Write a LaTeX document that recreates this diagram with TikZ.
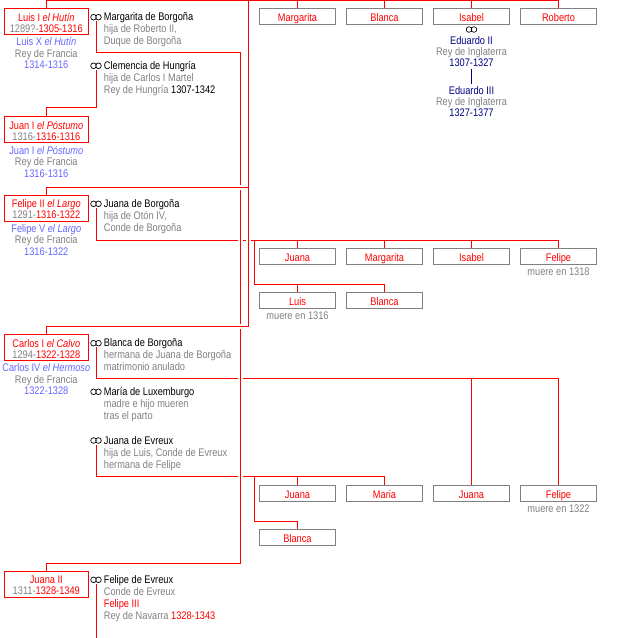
\documentclass[tikz,border=0pt]{standalone}
\usepackage{fontspec}
\setmainfont{Liberation Sans}[FakeStretch=0.84]
\usetikzlibrary{positioning, backgrounds}

\definecolor{tgray}{RGB}{128,128,128}
\definecolor{lblue}{RGB}{102,102,255}
\definecolor{navy}{RGB}{0,0,128}
\newcommand\fsz[1]{\fontsize{11}{#1}\selectfont}
\newcommand\gry[1]{\textcolor{tgray}{#1}}
\newcommand\blu[1]{\textcolor{lblue}{#1}}
\newcommand\rd[1]{\textcolor{red}{#1}}

\begin{document}
\begin{tikzpicture}[
    x=1pt, y=-1pt,
    line/.style={red, line width=1pt},
    over/.style={line, preaction={draw=white, line width=5pt}},
    king/.style={
        draw=red, line width=1pt, text=red, font=\fsz{11}, align=center,
        minimum width=84pt, inner xsep=0pt, inner ysep=2pt,
        text height=21.4pt, text depth=0.6pt, anchor=north
    },
    % multi-line texts are placed by the baseline of their last line
    reign/.style={text=tgray, font=\fsz{11.5}, align=center, anchor=base, inner sep=0pt},
    spouse/.style={font=\fsz{12}, align=left, anchor=base west, inner sep=0pt},
    rings/.style={
        minimum width=12pt, minimum height=8pt, inner sep=0pt,
        path picture={\draw[line width=0.7pt]
            ([xshift=-2.5pt]path picture bounding box.center) circle[radius=2.8pt]
            ([xshift=2.5pt]path picture bounding box.center) circle[radius=2.8pt];}
    },
    child/.style={
        draw=tgray, line width=1pt, text=red, font=\fsz{11},
        minimum width=76pt, inner sep=0pt, text height=12.4pt, text depth=3.6pt,
        anchor=north
    },
    note/.style={text=tgray, font=\fsz{11}, inner sep=0pt, text height=10pt},
]
\useasboundingbox (0,0) rectangle (628,638);

% Kings
\node[king] (luis) at (46.3,8.3) {Luis I \textit{el Hutín}\\\gry{1289?-}1305-1316};
\node[reign] (luisr) at (46.3,68.7) {\blu{Luis X \textit{el Hutín}}\\Rey de Francia\\\blu{1314-1316}};

\node[king] (juan) at (46.3,116.3) {Juan I \textit{el Póstumo}\\\gry{1316-}1316-1316};
\node[reign] (juanr) at (46.3,177) {\blu{Juan I \textit{el Póstumo}}\\Rey de Francia\\\blu{1316-1316}};

\node[king] (felipe) at (46.3,195) {Felipe II \textit{el Largo}\\\gry{1291-}1316-1322};
\node[reign] (feliper) at (46.3,255.3) {\blu{Felipe V \textit{el Largo}}\\Rey de Francia\\\blu{1316-1322}};

\node[king] (carlos) at (46.3,334.3) {Carlos I \textit{el Calvo}\\\gry{1294-}1322-1328};
\node[reign] (carlosr) at (46.3,394.7) {\blu{Carlos IV \textit{el Hermoso}}\\Rey de Francia\\\blu{1322-1328}};

\node[king] (juana2) at (46.3,571) {Juana II\\\gry{1311-}1328-1349};

% Spouses
\node[rings] (rmarg) at (96,17.2) {};
\node[spouse] (marg) at (103.7,44.7) {Margarita de Borgoña\\\gry{hija de Roberto II,}\\\gry{Duque de Borgoña}};

\node[rings] (rclem) at (96,65.8) {};
\node[spouse] (clem) at (103.7,93.3) {Clemencia de Hungría\\\gry{hija de Carlos I Martel}\\\gry{Rey de Hungría} 1307-1342};

\node[rings] (rjbor) at (96,203.8) {};
\node[spouse] (jbor) at (103.7,231.3) {Juana de Borgoña\\\gry{hija de Otón IV,}\\\gry{Conde de Borgoña}};

\node[rings] (rbbor) at (96,343.2) {};
\node[spouse] (bbor) at (103.7,370.7) {Blanca de Borgoña\\\gry{hermana de Juana de Borgoña}\\\gry{matrimonio anulado}};

\node[rings] (rmlux) at (96,391.8) {};
\node[spouse] (mlux) at (103.7,419.3) {María de Luxemburgo\\\gry{madre e hijo mueren}\\\gry{tras el parto}};

\node[rings] (rjevr) at (96,440.5) {};
\node[spouse] (jevr) at (103.7,468) {Juana de Evreux\\\gry{hija de Luis, Conde de Evreux}\\\gry{hermana de Felipe}};

\node[rings] (rfevr) at (96,579.8) {};
\node[spouse] (fevr) at (103.7,619.3) {Felipe de Evreux\\\gry{Conde de Evreux}\\\rd{Felipe III}\\\gry{Rey de Navarra} \rd{1328-1343}};

% Children of the first generation
\node[child] (pmarg) at (297.5,8.3) {Margarita};
\node[child] (pblan) at (384.5,8.3) {Blanca};
\node[child] (pisab) at (471.5,8.3) {Isabel};
\node[child] (prob)  at (558.5,8.3) {Roberto};

\node[rings] (risab) at (471.5,29.5) {};
\node[reign, font=\fsz{11}] (edw2) at (471.5,66.7) {\textcolor{navy}{Eduardo II}\\Rey de Inglaterra\\\textcolor{navy}{1307-1327}};
\node[reign, font=\fsz{11}] (edw3) at (471.5,116.7) {\textcolor{navy}{Eduardo III}\\Rey de Inglaterra\\\textcolor{navy}{1327-1377}};
\draw[navy, line width=1pt, shorten <=2pt, shorten >=3pt] (edw2.south) -- (edw3.north);

% Children of Felipe V
\node[child] (fjuana) at (297.5,248.3) {Juana};
\node[child] (fmarg)  at (384.5,248.3) {Margarita};
\node[child] (fisab)  at (471.5,248.3) {Isabel};
\node[child] (ffel)   at (558.5,248.3) {Felipe};
\node[note, below=0pt of ffel.south, anchor=north] (ffeln) {muere en 1318};
\node[child] (fluis)  at (297.5,292.3) {Luis};
\node[note, below=0pt of fluis.south, anchor=north] (fluisn) {muere en 1316};
\node[child] (fblan)  at (384.5,292.3) {Blanca};

% Children of Carlos IV
\node[child] (cjuana)  at (297.5,485.3) {Juana};
\node[child] (cmaria)  at (384.5,485.3) {Maria};
\node[child] (cjuana2) at (471.5,485.3) {Juana};
\node[child] (cfel)    at (558.5,485.3) {Felipe};
\node[note, below=0pt of cfel.south, anchor=north] (cfeln) {muere en 1322};
\node[child] (cblan)   at (297.5,529.3) {Blanca};

% Level points
\coordinate (ptop) at (248,0.5);
\coordinate (pfel) at (248,187.3);
\coordinate (pcar) at (248,326);
\coordinate (mlvl) at (240,52.7);
\coordinate (mbot) at (240,563);
\coordinate (clvl) at (96,107.3);
\coordinate (jblvl) at (96,240.7);
\coordinate (jbsub) at (254,240.7);
\coordinate (jbsub2) at (254,284.3);
\coordinate (bblvl) at (96,378.3);
\coordinate (jelvl) at (96,476.7);
\coordinate (jesub) at (254,476.7);
\coordinate (jesub2) at (254,521.3);
\coordinate (febot) at (96,638);

\begin{scope}[on background layer]
% Felipe V and Juana de Borgoña
\draw[line] (rjbor.south) -- (jblvl) -| (ffel.north)
    foreach \c in {fjuana,fmarg,fisab} {(\c.north) -- (\c.north |- jblvl)}
    (jbsub) -- (jbsub2) -| (fblan.north)
    (fluis.north) -- (fluis.north |- jbsub2);
% Carlos IV and Blanca de Borgoña
\draw[line] (rbbor.south) -- (bblvl) -| (cfel.north)
    (cjuana2.north) -- (cjuana2.north |- bblvl);
% Carlos IV and Juana de Evreux
\draw[line] (rjevr.south) -- (jelvl) -| (cmaria.north)
    (cjuana.north) -- (cjuana.north |- jelvl)
    (jesub) -- (jesub2) -| (cblan.north);
% Clemencia and Felipe de Evreux
\draw[line] (rclem.south) -- (clvl) -| (juan.north);
\draw[line] (rfevr.south) -- (febot);
% Luis X and Margarita
\draw[over] (rmarg.south) |- (mlvl) -- (mbot) -| (juana2.north);
% Felipe IV
\draw[over] (luis.north) |- (ptop) -| (prob.north)
    foreach \c in {pmarg,pblan,pisab} {(\c.north) -- (\c.north |- ptop)}
    (ptop) -- (pcar) -| (carlos.north)
    (pfel) -| (felipe.north);
\end{scope}

\end{tikzpicture}
\end{document}
